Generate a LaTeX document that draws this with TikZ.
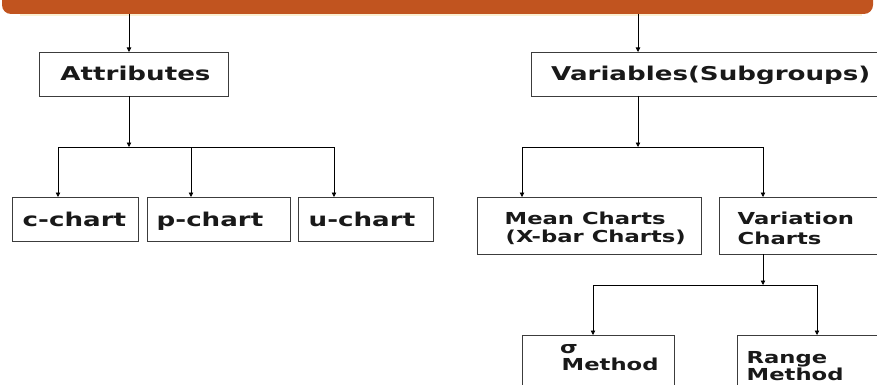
\documentclass[tikz,border=0pt]{standalone}
\usepackage{fontspec}
\usetikzlibrary{arrows.meta}
\newfontfamily\vfont{DejaVu Sans Bold}[FakeStretch=1.375]
\definecolor{barorange}{HTML}{C1541F}
\definecolor{barshadow}{HTML}{FBF0D2}
\definecolor{boxline}{HTML}{3C3C3C}
\tikzset{
  box/.style={draw=boxline, line width=0.9pt, fill=white, inner sep=0pt, outer sep=0pt},
  big/.style={font=\vfont\fontsize{19}{22}\selectfont, inner sep=0pt, anchor=base west, text=black!90},
  small/.style={font=\vfont\fontsize{16.5}{19}\selectfont, inner sep=0pt, anchor=base west, text=black!90},
  arr/.style={draw=black, line width=0.8pt, -{Triangle[width=4.5pt,length=4.5pt]}},
  ln/.style={draw=black, line width=0.8pt}
}
\begin{document}
\begin{tikzpicture}[x=1pt,y=-1pt]
\useasboundingbox (0,0) rectangle (877,385);
% top bar
\fill[barshadow] (20,13) rectangle (862,16.5);
\fill[barorange, rounded corners=9pt] (2,-12) rectangle (873,14);
\coordinate (b1) at (129,14);
\coordinate (b2) at (638,14);
% boxes
\node[box, minimum width=189pt, minimum height=44pt] (attr) at (133.5,74) {};
\node[box, minimum width=351pt, minimum height=44pt] (var) at (706.5,74) {};
\node[box, minimum width=126pt, minimum height=44pt] (cc) at (75,219) {};
\node[box, minimum width=143pt, minimum height=44pt] (pc) at (218.5,219) {};
\node[box, minimum width=135pt, minimum height=44pt] (uc) at (365.5,219) {};
\node[box, minimum width=224pt, minimum height=57pt] (mean) at (589,225.5) {};
\node[box, minimum width=163pt, minimum height=57pt] (vari) at (800.5,225.5) {};
\node[box, minimum width=152pt, minimum height=57pt] (sig) at (598,363.5) {};
\node[box, minimum width=145pt, minimum height=57pt] (rng) at (809.5,363.5) {};
% texts
\node[big, anchor=base] (tattr) at (135.5,81) {Attributes};
\node[big] (tvar) at (551,81) {Variables(Subgroups)};
\node[big] (tcc) at (22.5,226) {c-chart};
\node[big] (tpc) at (156.5,226) {p-chart};
\node[big] (tuc) at (308.5,226) {u-chart};
\node[small] (tmean1) at (504.5,224) {Mean Charts};
\node[small] (tmean2) at (505.5,242) {(X-bar Charts)};
\node[small] (tvar1) at (737.5,224) {Variation};
\node[small] (tvar2) at (737.5,244) {Charts};
\node[small] (tsig1) at (560,353) {σ};
\node[small] (tsig2) at (561.5,370) {Method};
\node[small] (trng1) at (746.5,363) {Range};
\node[small] (trng2) at (746.5,380) {Method};
% connectors from bar
\draw[arr] (b1) -- (b1 |- attr.north);
\draw[arr] (b2) -- (b2 |- var.north);
% attributes branch
\coordinate (j1) at (129,147);
\draw[arr] (b1 |- attr.south) -- (j1);
\coordinate (a1) at (58,147);
\coordinate (a2) at (191,147);
\coordinate (a3) at (334,147);
\draw[ln] (a1) -- (a3);
\draw[arr] (a1) -- (a1 |- cc.north);
\draw[arr] (a2) -- (a2 |- pc.north);
\draw[arr] (a3) -- (a3 |- uc.north);
% variables branch
\coordinate (j2) at (638,147);
\draw[arr] (b2 |- var.south) -- (j2);
\coordinate (v1) at (522,147);
\coordinate (v2) at (763,147);
\draw[ln] (v1) -- (v2);
\draw[arr] (v1) -- (v1 |- mean.north);
\draw[arr] (v2) -- (v2 |- vari.north);
% variation branch
\coordinate (j3) at (763,285);
\draw[arr] (v2 |- vari.south) -- (j3);
\coordinate (w1) at (593,285);
\coordinate (w2) at (817,285);
\draw[ln] (w1) -- (w2);
\draw[arr] (w1) -- (w1 |- sig.north);
\draw[arr] (w2) -- (w2 |- rng.north);
\end{tikzpicture}
\end{document}
